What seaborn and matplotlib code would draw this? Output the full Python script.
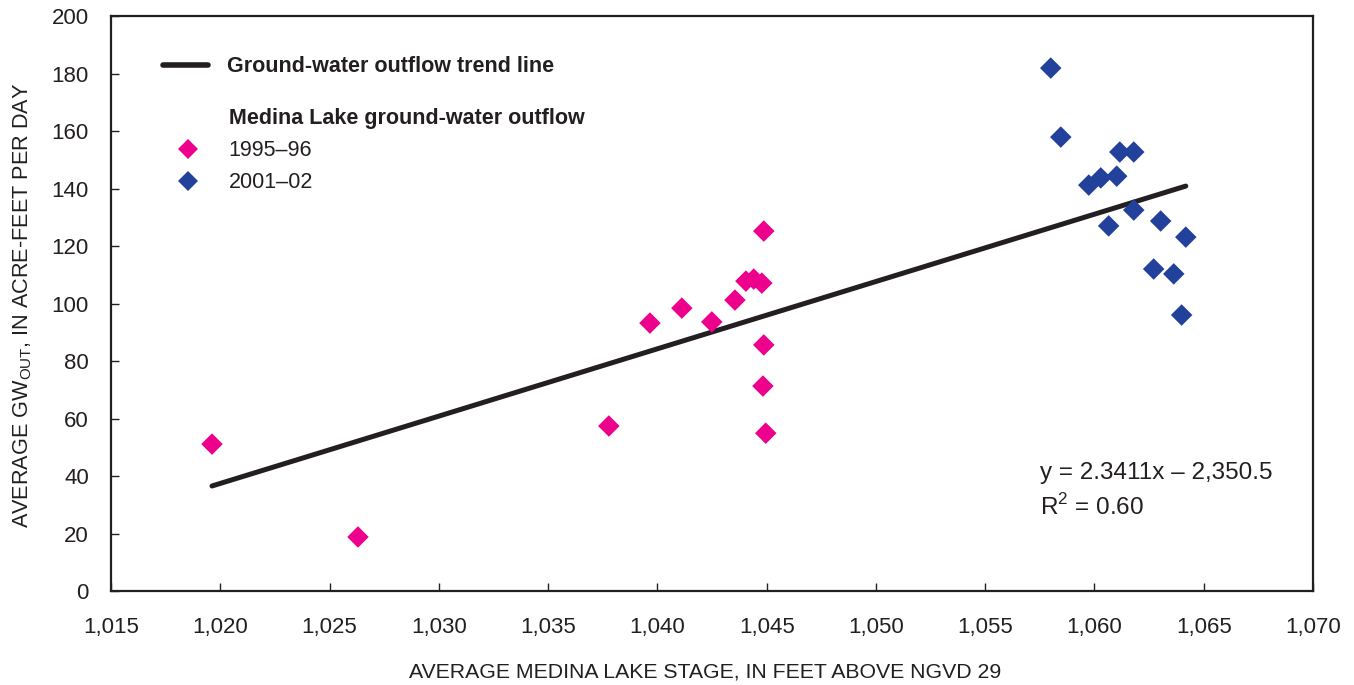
import matplotlib
matplotlib.use("Agg")
import matplotlib.pyplot as plt
from matplotlib.lines import Line2D
import seaborn as sns
import pandas as pd

# Medina Lake ground-water outflow
stage_1995 = [1019.62, 1026.30, 1037.78, 1039.66, 1041.12, 1042.49, 1043.55,
              1044.05, 1044.41, 1044.78, 1044.87, 1044.87, 1044.83, 1044.96]
gw_1995 = [51.1, 18.8, 57.4, 93.2, 98.4, 93.6, 101.2,
           107.8, 108.5, 107.1, 125.2, 85.6, 71.3, 54.9]

stage_2001 = [1058.00, 1058.46, 1059.74, 1060.29, 1061.02, 1061.16, 1061.80,
              1060.65, 1061.80, 1063.03, 1064.18, 1062.71, 1063.63, 1063.99]
gw_2001 = [181.9, 157.9, 141.2, 143.7, 144.3, 152.7, 152.7,
           127.0, 132.5, 128.7, 123.1, 112.0, 110.3, 96.0]

periods = ["1995\u201396", "2001\u201302"]
slope, intercept = 2.3411, -2350.5

x_ticks = [1015, 1020, 1025, 1030, 1035, 1040, 1045, 1050, 1055, 1060, 1065, 1070]
x_tick_labels = ["1,015", "1,020", "1,025", "1,030", "1,035", "1,040",
                 "1,045", "1,050", "1,055", "1,060", "1,065", "1,070"]
y_ticks = [0, 20, 40, 60, 80, 100, 120, 140, 160, 180, 200]

pink = "#EC008C"
blue = "#22419A"
ink = "#231F20"

df = pd.DataFrame({
    "stage": stage_1995 + stage_2001,
    "gw": gw_1995 + gw_2001,
    "period": [periods[0]] * len(stage_1995) + [periods[1]] * len(stage_2001),
})

# trend line across the data range
x_min, x_max = df["stage"].min(), df["stage"].max()
trend = pd.DataFrame({"stage": [x_min, x_max],
                      "gw": [slope * x_min + intercept, slope * x_max + intercept]})

sns.set_style("ticks")
plt.rcParams["font.family"] = ["Liberation Sans", "DejaVu Sans"]
plt.rcParams["mathtext.fontset"] = "custom"
plt.rcParams["mathtext.rm"] = "Liberation Sans"
plt.rcParams["text.color"] = ink
plt.rcParams["axes.labelcolor"] = ink

fig, ax = plt.subplots(figsize=(13.54, 6.85), dpi=100)
fig.subplots_adjust(left=0.082, right=0.9697, bottom=0.1372, top=0.9766)

sns.lineplot(data=trend, x="stage", y="gw", color=ink, linewidth=3.6, ax=ax,
             legend=False)
sns.scatterplot(data=df, x="stage", y="gw", hue="period",
                palette={periods[0]: pink, periods[1]: blue},
                marker="D", s=120, linewidth=0, ax=ax, legend=False, zorder=3)

ax.set_xlim(1015, 1070)
ax.set_ylim(0, 200)
ax.set_xticks(x_ticks)
ax.set_xticklabels(x_tick_labels)
ax.set_yticks(y_ticks)
ax.tick_params(direction="in", length=6, width=1, colors=ink, labelsize=16)
ax.tick_params(axis="x", pad=19)
ax.tick_params(axis="y", pad=16)
for sp in ax.spines.values():
    sp.set_visible(True)
    sp.set_linewidth(1.6)
    sp.set_color(ink)

ax.set_xlabel("AVERAGE MEDINA LAKE STAGE, IN FEET ABOVE NGVD 29", fontsize=15.3)
ax.set_ylabel(r"AVERAGE GW$_{\mathregular{OUT}}$, IN ACRE-FEET PER DAY", fontsize=15.6)
ax.xaxis.set_label_coords(0.494, -0.125)
ax.yaxis.set_label_coords(-0.064, 0.496)

ax.text(1057.5, 41, "y = 2.3411x \u2013 2,350.5", fontsize=17.5, va="center")
ax.text(1057.5, 29.2, r"R$^{\mathregular{2}}$ = 0.60", fontsize=17.5, va="center")

# legends
h_line = [Line2D([], [], color=ink, linewidth=4)]
leg1 = ax.legend(h_line, ["Ground-water outflow trend line"], loc="upper left",
                 bbox_to_anchor=(0.0433, 0.930), frameon=False, borderpad=0,
                 borderaxespad=0, handlelength=2.1, handletextpad=0.86,
                 prop={"size": 15.5, "weight": "bold"})
ax.add_artist(leg1)

h_pts = [Line2D([], [], linestyle="none"),
         Line2D([], [], linestyle="none", marker="D", markersize=10.5,
                markerfacecolor=pink, markeredgewidth=0),
         Line2D([], [], linestyle="none", marker="D", markersize=10.5,
                markerfacecolor=blue, markeredgewidth=0)]
leg2 = ax.legend(h_pts, ["Medina Lake ground-water outflow"] + periods,
                 loc="upper left", bbox_to_anchor=(0.0554, 0.840), frameon=False,
                 borderpad=0, borderaxespad=0, handlelength=1.0,
                 handletextpad=1.37, labelspacing=0.52, prop={"size": 15.5})
leg2.get_texts()[0].set_fontweight("bold")

fig.savefig("out.png", dpi=100)
